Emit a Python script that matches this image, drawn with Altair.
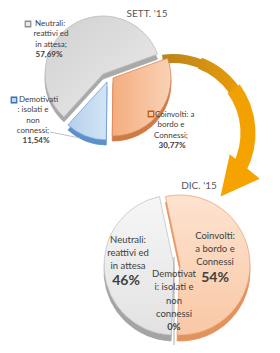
import math
import altair as alt
import pandas as pd

# ---------------- data ----------------
categories = ["Coinvolti", "Demotivati", "Neutrali"]
sett_values = [30.77, 11.54, 57.69]
dic_values = [54, 0, 46]
sett_title = "SETT. '15"
dic_title = "DIC. '15"
sett_first = ["Coinvolti: a", "Demotivati", "Neutrali:"]
sett_rest = [["bordo e", "Connessi;"], [": isolati e", "non", "connessi;"], ["reattivi ed", "in attesa;"]]
sett_pct = ["30,77%", "11,54%", "57,69%"]
dic_lines = [["Coinvolti:", "a bordo e", "Connessi"],
             ["Demotivat", "i: isolati e", "non", "connessi"],
             ["Neutrali:", "reattivi ed", "in attesa"]]
dic_pct = ["54%", "0%", "46%"]

FONT = "Lato"
TXT = "#404040"


def slices(values, start_deg):
    total = float(sum(values))
    rows, acc = [], 0.0
    for c, v in zip(categories, values):
        a0 = math.radians(start_deg) + 2 * math.pi * acc / total
        acc += v
        a1 = math.radians(start_deg) + 2 * math.pi * acc / total
        rows.append({"cat": c, "value": v, "t0": a0, "t1": a1})
    return pd.DataFrame(rows)


def wedge(df, cat, cx, cy, r, fill, stroke, sw=0.8):
    return (
        alt.Chart(df)
        .transform_filter((alt.datum.cat == cat) & (alt.datum.value > 0))
        .mark_arc(outerRadius=r, fill=fill, stroke=stroke, strokeWidth=sw)
        .encode(theta=alt.Theta("t0:Q", scale=None), theta2="t1:Q",
                x=alt.value(cx), y=alt.value(cy))
    )


one = pd.DataFrame({"k": [0]})


def text(t, x, y, size, align="center", bold=False, color=TXT, lh=None):
    kw = dict(text=t, font=FONT, fontSize=size, align=align, baseline="middle",
              color=color, fontWeight="bold" if bold else "normal")
    if lh:
        kw["lineHeight"] = lh
    return alt.Chart(one).mark_text(**kw).encode(x=alt.value(x), y=alt.value(y))


def marker(x, y, fill, stroke):
    return alt.Chart(one).mark_square(size=30, fill=fill, stroke=stroke, strokeWidth=1.3,
                                      opacity=1).encode(x=alt.value(x), y=alt.value(y))


def grad(c1, c2, x2=1, y2=0):
    return alt.Gradient(gradient="linear", x1=0, y1=0, x2=x2, y2=y2,
                        stops=[alt.GradientStop(color=c1, offset=0),
                               alt.GradientStop(color=c2, offset=1)])


layers = []

# ---------------- arrow ----------------
ACX, ACY = 173, 133
arrow_segments = [(-8, 22, 70, 79, grad("#b9841a", "#d08f12")),
                  (21, 55, 69, 80.5, grad("#cf8f12", "#ea9a08")),
                  (54, 118, 67.5, 82.5, grad("#f0a000", "#f5a300", 0, 1))]
for a0, a1, ri, ro, col in arrow_segments:
    seg = pd.DataFrame({"t0": [math.radians(a0)], "t1": [math.radians(a1)]})
    layers.append(
        alt.Chart(seg).mark_arc(innerRadius=ri, outerRadius=ro, fill=col)
        .encode(theta=alt.Theta("t0:Q", scale=None), theta2="t1:Q",
                x=alt.value(ACX), y=alt.value(ACY))
    )
layers.append(
    alt.Chart(one).mark_point(shape="M0,-1L-1,1L1,1Z", size=1250, filled=True,
                              fill="#f5a300", stroke="#f5a300", angle=219, opacity=1)
    .encode(x=alt.value(233), y=alt.value(181))
)

# ---------------- top pie (SETT.) ----------------
s = slices(sett_values, 70)
R1 = 58
top_pos = {"Coinvolti": (113, 78), "Demotivati": (107, 82), "Neutrali": (103, 74)}
top_depth = {"Coinvolti": "#cf7a45", "Demotivati": "#5d8fcb", "Neutrali": "#a9a9a9"}
top_face = {"Coinvolti": grad("#f4ad7e", "#f9d2b6", 1, 0),
            "Demotivati": grad("#b5d0ec", "#d3e4f5", 1, 0),
            "Neutrali": grad("#d0d0d0", "#ececec", 1, 1)}
top_stroke = {"Coinvolti": "#d9855a", "Demotivati": "#6f9fd8", "Neutrali": "#bdbdbd"}
for c in categories:
    cx, cy = top_pos[c]
    layers.append(wedge(s, c, cx, cy + 5, R1, top_depth[c], top_depth[c]))
for c in categories:
    cx, cy = top_pos[c]
    layers.append(wedge(s, c, cx, cy, R1, top_face[c], top_stroke[c]))

# leader line for Demotivati
layers.append(alt.Chart(one).mark_rule(color="#b0b0b0", strokeWidth=0.8)
              .encode(x=alt.value(50), y=alt.value(132), x2=alt.value(80), y2=alt.value(138)))

# top labels (multi-line blocks: y is the first line)
TS, TLH = 8, 10.3
layers += [
    marker(28, 24, "#e8e8e8", "#8f8f8f"),
    text(sett_first[2], 35, 24, TS, align="left"),
    text(sett_rest[2], 51, 34.3, TS, lh=TLH),
    text(sett_pct[2], 49, 54.5, TS, bold=True),
    marker(14, 100, "#bdd7ee", "#2e75b6"),
    text(sett_first[1], 19, 100, TS, align="left"),
    text(sett_rest[1], 33, 110.3, TS, lh=TLH),
    text(sett_pct[1], 36, 141, TS, bold=True),
    marker(151, 114, "#f8cbad", "#c55a11"),
    text(sett_first[0], 155, 114.5, TS, align="left"),
    text(sett_rest[0], 171, 125.3, TS, lh=TLH),
    text(sett_pct[0], 172, 146, TS, bold=True),
    text(sett_title, 147, 14, 10, color="#595959"),
]

# ---------------- bottom pie (DIC.) ----------------
d = slices(dic_values, -12)
R2 = 70
bot_pos = {"Coinvolti": (180, 265), "Demotivati": (177, 265), "Neutrali": (174, 265)}
bot_depth = {"Coinvolti": "#e3925d", "Demotivati": "#5d8fcb", "Neutrali": "#a4a4a4"}
bot_face = {"Coinvolti": grad("#fde3cf", "#f9c8a6", 0, 1),
            "Demotivati": grad("#bdd7ee", "#d3e4f5", 1, 0),
            "Neutrali": grad("#f6f6f6", "#e2e2e2", 0, 1)}
bot_stroke = {"Coinvolti": "#eea479", "Demotivati": "#6f9fd8", "Neutrali": "#c4c4c4"}
for c in categories:
    cx, cy = bot_pos[c]
    layers.append(wedge(d, c, cx, cy + 6, R2, bot_depth[c], bot_depth[c]))
for c in categories:
    cx, cy = bot_pos[c]
    layers.append(wedge(d, c, cx, cy, R2, bot_face[c], bot_stroke[c]))

layers.append(alt.Chart(one).mark_rule(color="#9a9a9a", strokeWidth=0.8)
              .encode(x=alt.value(174), y=alt.value(257), x2=alt.value(174), y2=alt.value(345)))

BS, BLH = 9.5, 12.8
layers += [
    text(dic_lines[2], 128, 240, BS, lh=BLH),
    text(dic_pct[2], 126, 281, 14, bold=True),
    text(dic_lines[0], 215, 236, BS, lh=BLH),
    text(dic_pct[0], 215, 278, 14, bold=True),
    text(dic_lines[1], 174, 274, BS, lh=13.3),
    text(dic_pct[1], 174, 327, 9.5, bold=True),
    text(dic_title, 199, 186, 10, color="#595959"),
]

chart = (
    alt.layer(*layers)
    .properties(width=280, height=353, padding=0, autosize="none", background="white")
    .configure_view(stroke=None)
)

chart.save("out.html", embed_options={"renderer": "svg", "actions": False})
